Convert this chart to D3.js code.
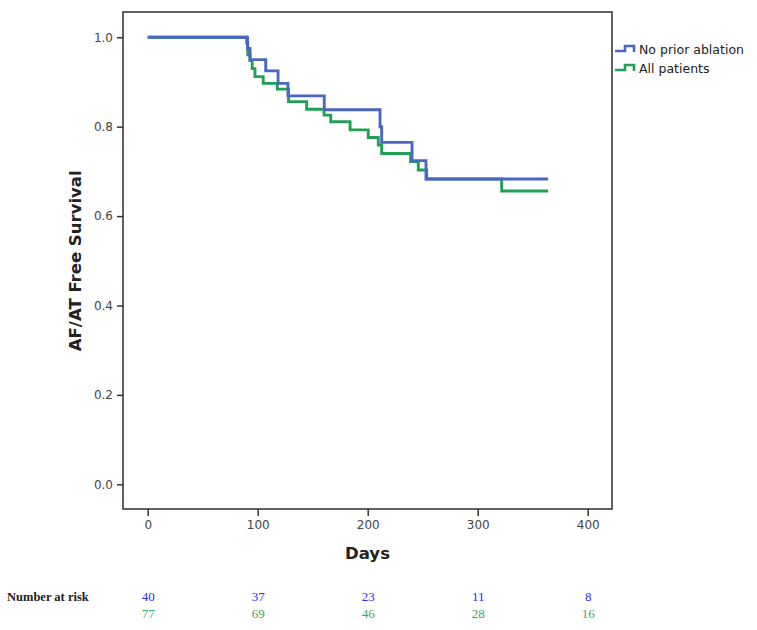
<!DOCTYPE html>
<html>
<head>
<meta charset="utf-8">
<script src="https://cdn.jsdelivr.net/npm/d3@7"></script>
<style>
  html, body { margin: 0; padding: 0; background: #fff; }
  svg { display: block; }
</style>
</head>
<body>
<svg id="chart" width="757" height="630"></svg>
<script>
// ---- Data ----
const seriesNames = ["No prior ablation", "All patients"];

// Kaplan-Meier steps: time (days) and survival after the step
const noPriorTimes = [0, 90.7, 93, 107.3, 118.5, 127.5, 160.5, 211.2, 212.7, 240.3, 253, 364];
const noPriorSurv  = [1.0, 0.975, 0.95, 0.925, 0.897, 0.869, 0.838, 0.80, 0.765, 0.724, 0.683, 0.683];

const allTimes = [0, 90, 91, 93, 95, 97.5, 105, 117.8, 128, 144.5, 160.3, 166.4, 184, 200.5, 209.6, 212.7, 239, 246, 253.6, 321.8, 364];
const allSurv  = [1.0, 0.987, 0.961, 0.948, 0.93, 0.912, 0.897, 0.884, 0.856, 0.839, 0.826, 0.811, 0.793, 0.776, 0.759, 0.740, 0.722, 0.703, 0.683, 0.656, 0.656];

const xTicks = [0, 100, 200, 300, 400];
const yTicks = [0.0, 0.2, 0.4, 0.6, 0.8, 1.0];

const riskTimes = [0, 100, 200, 300, 400];
const riskNoPrior = [40, 37, 23, 11, 8];
const riskAll = [77, 69, 46, 28, 16];

// ---- Layout ----
const colors = { noPrior: "#4a66c2", all: "#20a055" };
const riskColors = { noPrior: "#2a2af5", all: "#33a86a" };
const frame = { left: 123, right: 612, top: 12, bottom: 509 };

const svg = d3.select("#chart");

const x = d3.scaleLinear().domain([0, 400]).range([147.7, 587.7]);
const y = d3.scaleLinear().domain([0, 1]).range([484.3, 37.3]);

// Frame
svg.append("rect")
  .attr("x", frame.left).attr("y", frame.top)
  .attr("width", frame.right - frame.left).attr("height", frame.bottom - frame.top)
  .attr("fill", "none").attr("stroke", "#3a3a3a").attr("stroke-width", 1.6);

// X axis
const xAxis = d3.axisBottom(x).tickValues(xTicks).tickFormat(d3.format("d")).tickSize(7).tickPadding(4);
const gx = svg.append("g").attr("transform", `translate(0,${frame.bottom})`).call(xAxis);
gx.select(".domain").remove();
gx.selectAll(".tick line").attr("stroke", "#333").attr("stroke-width", 1.5);
gx.selectAll(".tick text").attr("fill", "#444").style("font-family", "DejaVu Sans").style("font-size", "12px");

// Y axis
const yAxis = d3.axisLeft(y).tickValues(yTicks).tickFormat(d3.format(".1f")).tickSize(6).tickPadding(4);
const gy = svg.append("g").attr("transform", `translate(${frame.left},0)`).call(yAxis);
gy.select(".domain").remove();
gy.selectAll(".tick line").attr("stroke", "#333").attr("stroke-width", 1.5);
gy.selectAll(".tick text").attr("fill", "#444").style("font-family", "DejaVu Sans").style("font-size", "12px");

// Axis titles
svg.append("text")
  .attr("x", (frame.left + frame.right) / 2 + 0).attr("y", 559)
  .attr("text-anchor", "middle")
  .style("font-family", "DejaVu Sans").style("font-weight", "bold").style("font-size", "16.5px")
  .attr("fill", "#222").text("Days");

svg.append("text")
  .attr("transform", `translate(81,${(y(0) + y(1)) / 2}) rotate(-90)`)
  .attr("text-anchor", "middle")
  .style("font-family", "DejaVu Sans").style("font-weight", "bold").style("font-size", "16.5px")
  .attr("fill", "#222").text("AF/AT Free Survival");

// Curves
const line = d3.line().x(d => x(d[0])).y(d => y(d[1])).curve(d3.curveStepAfter);
const allData = allTimes.map((t, i) => [t, allSurv[i]]);
const noPriorData = noPriorTimes.map((t, i) => [t, noPriorSurv[i]]);

svg.append("path").datum(allData).attr("d", line)
  .attr("fill", "none").attr("stroke", colors.all).attr("stroke-width", 2.9);
svg.append("path").datum(noPriorData).attr("d", line)
  .attr("fill", "none").attr("stroke", colors.noPrior).attr("stroke-width", 2.9);

// Legend
const legend = svg.append("g").attr("transform", "translate(615,50)");
[["noPrior", seriesNames[0]], ["all", seriesNames[1]]].forEach(([key, name], i) => {
  const g = legend.append("g").attr("transform", `translate(0,${i * 19})`);
  g.append("path")
    .attr("d", "M0,1 H10 V-4 H19 V2")
    .attr("fill", "none").attr("stroke", colors[key]).attr("stroke-width", 2.6);
  g.append("text").attr("x", 24).attr("y", 0).attr("dy", "0.35em")
    .style("font-family", "DejaVu Sans").style("font-size", "12.5px")
    .attr("fill", "#222").text(name);
});

// Number at risk table
svg.append("text").attr("x", 7).attr("y", 601)
  .style("font-family", "Liberation Serif").style("font-weight", "bold").style("font-size", "12.5px")
  .attr("fill", "#222").text("Number at risk");

svg.append("g").selectAll("text").data(riskNoPrior).join("text")
  .attr("x", (d, i) => x(riskTimes[i]) + 0.5).attr("y", 601)
  .attr("text-anchor", "middle")
  .style("font-family", "Liberation Serif").style("font-size", "13px")
  .attr("fill", riskColors.noPrior).text(d => d);

svg.append("g").selectAll("text").data(riskAll).join("text")
  .attr("x", (d, i) => x(riskTimes[i]) + 0.5).attr("y", 618)
  .attr("text-anchor", "middle")
  .style("font-family", "Liberation Serif").style("font-size", "13px")
  .attr("fill", riskColors.all).text(d => d);
</script>
</body>
</html>
